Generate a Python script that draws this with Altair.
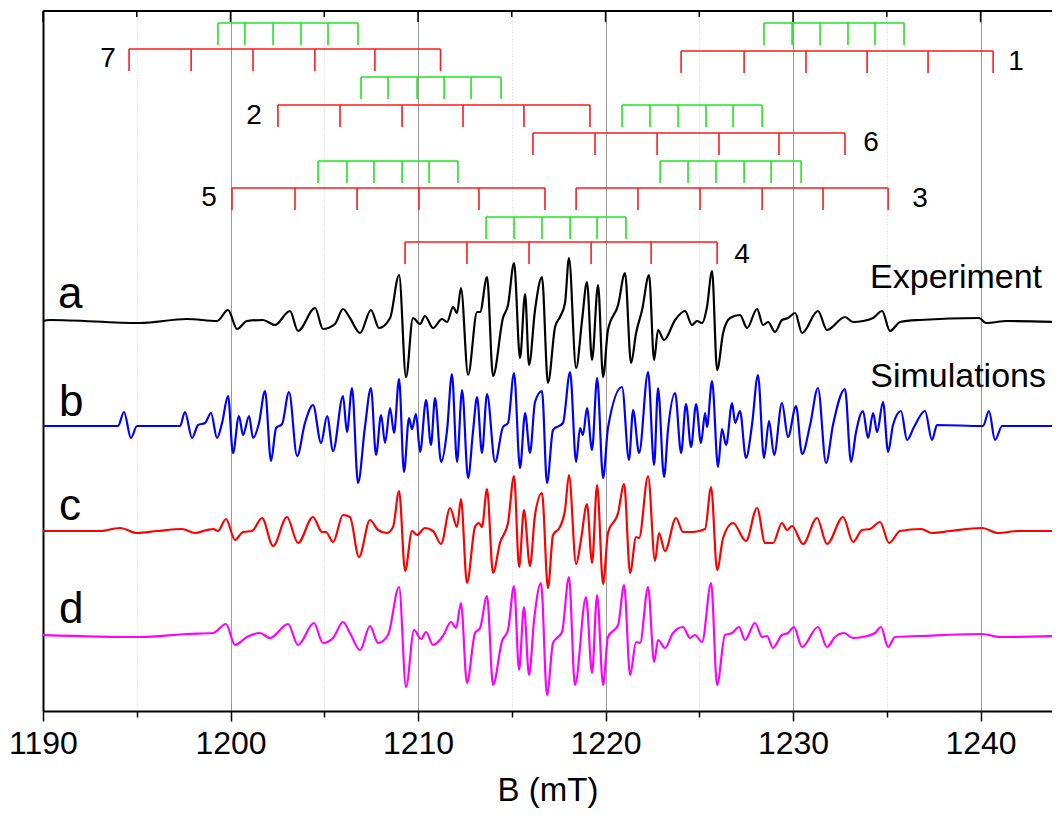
import altair as alt
import pandas as pd

FONT = "Liberation Sans"

# ---------------- spectra (B in mT, intensity in a.u. relative to each baseline) -------------
a_B = [1189.95, 1190.37, 1195.17, 1197.68, 1199.28, 1199.87, 1200.35, 1200.88, 1201.73, 1202.37,
       1203.17, 1203.6, 1204.51, 1204.93, 1205.57, 1206.0, 1206.37, 1206.91, 1207.49, 1207.92,
       1208.51, 1208.99, 1209.36, 1209.73, 1210.11, 1210.37, 1210.8, 1211.28, 1211.55, 1211.87,
       1212.08, 1212.29, 1212.67, 1213.15, 1213.31, 1213.68, 1214.0, 1214.53, 1214.8, 1215.12,
       1215.44, 1215.71, 1215.92, 1216.24, 1216.61, 1216.93, 1217.31, 1217.57, 1217.84, 1218.05,
       1218.43, 1218.75, 1219.01, 1219.28, 1219.6, 1219.87, 1220.13, 1220.67, 1221.04, 1221.36,
       1221.63, 1221.95, 1222.32, 1222.59, 1222.8, 1223.12, 1223.71, 1224.24, 1224.61, 1224.88,
       1225.15, 1225.41, 1225.68, 1225.95, 1226.27, 1226.64, 1227.17, 1227.55, 1228.08, 1228.4,
       1228.67, 1229.04, 1229.41, 1229.73, 1230.11, 1230.48, 1231.33, 1231.81, 1232.77, 1233.2,
       1233.73, 1234.27, 1234.75, 1235.17, 1235.71, 1236.77, 1239.92, 1240.29, 1241.41, 1244.24]
a_I = [0, 1, -2, 2, 0, 11, -8, 0, 1, -4,
       10, -10, 13, -8, -3, 12, 3, -12, 11, -7,
       3, 46, -56, 3, -3, 5, -7, 2, -1, 14,
       8, 33, -54, 9, 9, 44, -55, 3, 16, 58,
       -37, 27, -44, 11, 44, -62, -6, 4, 18, 63,
       -47, 1, 39, -39, 36, -56, -9, 16, 48, -42,
       -12, 11, 46, -39, -9, -19, 1, 10, -4, 0,
       -2, 14, 50, -49, -12, 3, 6, -7, 12, -4,
       -1, -11, 1, 3, 8, -12, 10, -9, 4, -1,
       0, 3, 10, -10, -1, 1, 3, -2, 0, -1]

b_B = [1189.95, 1194.0, 1194.32, 1194.69, 1195.01, 1197.31, 1197.57, 1197.95, 1198.27, 1198.64,
       1198.96, 1199.28, 1199.55, 1199.87, 1200.13, 1200.45, 1200.67, 1200.99, 1201.2, 1201.52,
       1201.84, 1202.16, 1202.43, 1202.75, 1203.12, 1203.55, 1203.97, 1204.4, 1204.83, 1205.15,
       1205.47, 1206.0, 1206.21, 1206.48, 1206.8, 1207.17, 1207.49, 1207.76, 1208.03, 1208.24,
       1208.51, 1208.72, 1208.99, 1209.25, 1209.52, 1209.68, 1209.89, 1210.11, 1210.43, 1210.69,
       1210.91, 1211.23, 1211.55, 1211.81, 1212.08, 1212.35, 1212.67, 1212.93, 1213.15, 1213.41,
       1213.68, 1214.11, 1214.53, 1214.8, 1215.12, 1215.44, 1215.71, 1215.97, 1216.24, 1216.61,
       1216.88, 1217.2, 1217.73, 1218.11, 1218.43, 1218.64, 1218.8, 1219.01, 1219.28, 1219.55,
       1219.87, 1220.13, 1220.88, 1221.25, 1221.47, 1221.79, 1222.27, 1222.59, 1222.8, 1223.12,
       1223.33, 1223.71, 1224.03, 1224.29, 1224.56, 1224.83, 1225.09, 1225.31, 1225.41, 1225.68,
       1226.0, 1226.21, 1226.43, 1226.75, 1226.91, 1227.17, 1227.49, 1227.81, 1228.13, 1228.45,
       1228.72, 1228.99, 1229.41, 1229.73, 1230.16, 1230.48, 1230.91, 1231.33, 1231.76, 1232.13,
       1232.77, 1233.09, 1233.36, 1233.73, 1234.0, 1234.27, 1234.48, 1234.8, 1235.07, 1235.33,
       1235.76, 1236.08, 1236.45, 1237.04, 1237.41, 1237.68, 1240.13, 1240.45, 1240.77, 1241.15,
       1244.24]
b_I = [0, 0, 14, -12, 0, 0, 14, -12, 1, 3,
       13, -12, 3, 30, -27, 10, -9, 10, -12, 3,
       35, -35, -2, 2, 34, -30, 3, 21, -17, 10,
       -25, 30, -6, 38, -57, -1, 38, -29, 11, -17,
       18, -7, 47, -46, 8, -3, 12, -26, 26, -19,
       28, -36, -4, 52, -36, 36, -52, -6, 29, -27,
       32, -36, -1, 3, 53, -42, 13, -27, 24, 35,
       -57, -4, 3, 54, -36, -2, -9, 18, -24, 48,
       -52, -2, 39, -34, 16, -27, 54, -39, 38, -51,
       -4, 33, -27, 22, -21, 22, -17, 13, -1, 45,
       -41, -3, -19, 23, 3, 15, -32, 1, 51, -32,
       5, -29, 23, -11, 20, -28, 1, 38, -37, 1,
       37, -36, -6, 15, -12, 13, -6, 24, -26, 1,
       15, -14, -1, 15, -14, 1, 0, 15, -14, 0,
       0]

c_B = [1189.95, 1193.04, 1194.11, 1195.01, 1196.08, 1197.41, 1198.11, 1198.75, 1199.07, 1199.33,
       1199.76, 1200.24, 1200.67, 1201.15, 1201.68, 1202.27, 1203.01, 1203.6, 1204.4, 1204.88,
       1205.09, 1205.47, 1206.0, 1206.37, 1206.85, 1207.44, 1207.87, 1208.35, 1208.67, 1208.99,
       1209.31, 1209.68, 1209.95, 1210.37, 1210.8, 1211.23, 1211.71, 1212.08, 1212.29, 1212.61,
       1213.04, 1213.25, 1213.41, 1213.68, 1214.0, 1214.37, 1214.8, 1215.12, 1215.39, 1215.65,
       1215.97, 1216.24, 1216.61, 1216.93, 1217.2, 1217.57, 1217.84, 1218.05, 1218.43, 1218.69,
       1219.01, 1219.28, 1219.55, 1219.87, 1220.13, 1220.67, 1220.99, 1221.31, 1221.63, 1221.79,
       1222.27, 1222.64, 1222.85, 1223.17, 1223.76, 1224.13, 1224.67, 1225.31, 1225.63, 1225.95,
       1226.27, 1226.8, 1227.49, 1228.08, 1228.51, 1228.93, 1229.41, 1229.68, 1229.95, 1230.53,
       1231.28, 1231.81, 1232.67, 1233.2, 1233.68, 1234.11, 1234.64, 1235.12, 1235.71, 1236.83,
       1237.41, 1238.37, 1240.08, 1240.93, 1242.0, 1244.24]
c_I = [0, 0, 3, -2, 0, 2, -2, 1, 2, 0,
       12, -9, -1, 0, 13, -15, 14, -12, 14, -1,
       -1, -11, 16, 14, -26, 11, 1, -2, 4, 40,
       -40, 0, -4, 3, 0, -13, 23, 4, 32, -52,
       4, 8, 4, 42, -42, -12, 8, 55, -36, 21,
       -35, 16, 38, -57, -4, 4, 21, 56, -33, -9,
       27, -32, 46, -53, -2, 18, 47, -42, -6, -7,
       55, -30, -2, -20, 13, -1, -1, 2, 44, -39,
       -7, 8, -10, 23, -12, -12, 8, 1, 5, -13,
       13, -13, 14, -11, 1, 2, 9, -12, 0, 2,
       -2, 0, 3, -2, 0, 0]

d_B = [1189.95, 1195.17, 1197.68, 1199.07, 1199.76, 1200.24, 1200.88, 1201.57, 1202.11, 1203.07,
       1203.6, 1204.45, 1204.93, 1205.47, 1206.0, 1206.37, 1206.91, 1207.44, 1207.87, 1208.4,
       1208.99, 1209.36, 1209.79, 1210.16, 1210.43, 1210.8, 1211.33, 1211.76, 1212.03, 1212.29,
       1212.61, 1213.04, 1213.31, 1213.68, 1214.0, 1214.48, 1214.8, 1215.12, 1215.39, 1215.65,
       1215.92, 1216.19, 1216.56, 1216.88, 1217.2, 1217.68, 1218.05, 1218.37, 1218.96, 1219.28,
       1219.55, 1219.87, 1220.13, 1220.67, 1220.99, 1221.31, 1221.63, 1221.84, 1222.27, 1222.59,
       1222.8, 1223.17, 1223.6, 1224.13, 1224.51, 1224.77, 1225.15, 1225.63, 1225.95, 1226.37,
       1226.75, 1227.12, 1227.44, 1227.97, 1228.35, 1228.61, 1228.93, 1229.41, 1229.73, 1230.05,
       1230.48, 1231.33, 1231.81, 1232.24, 1232.72, 1233.2, 1233.95, 1234.37, 1234.69, 1235.07,
       1235.44, 1236.77, 1240.08, 1241.04, 1244.24]
d_I = [0, -2, 1, 2, 11, -10, -2, 2, -3, 11,
       -10, 12, -8, -3, 13, 2, -15, 9, -8, 0,
       48, -52, 5, -4, 3, -10, -1, 13, 7, 32,
       -48, 2, 7, 39, -50, -6, 5, 49, -35, 28,
       -40, 15, 52, -60, -8, 3, 58, -50, 38, -38,
       40, -50, -2, 10, 50, -40, -7, -8, 48, -27,
       -5, -13, 2, 8, -3, 0, -7, 52, -50, 0,
       2, 8, -5, 12, -2, -1, -13, 0, 2, 8,
       -12, 8, -12, -2, 2, -3, -1, 2, 8, -12,
       -2, -1, 1, -2, -1]

trace_names = ["a", "b", "c", "d"]
trace_offsets = [390, 285, 180, 76]
trace_colors = ["#000000", "#0000ff", "#ff0000", "#ff00ff"]

# ---------------- stick diagrams (line positions in mT) ----------------
groups = ["1", "2", "3", "4", "5", "6", "7"]
red_pos = {
    "1": [1224.03, 1227.39, 1230.69, 1233.95, 1237.20, 1240.67],
    "2": [1202.53, 1205.84, 1209.15, 1212.40, 1215.65, 1219.17],
    "3": [1218.43, 1221.73, 1225.04, 1228.35, 1231.60, 1235.07],
    "4": [1209.31, 1212.61, 1215.92, 1219.23, 1222.43, 1225.95],
    "5": [1200.08, 1203.44, 1206.75, 1210.05, 1213.25, 1216.77],
    "6": [1216.13, 1219.44, 1222.75, 1226.05, 1229.25, 1232.77],
    "7": [1194.59, 1197.90, 1201.20, 1204.50, 1207.70, 1211.20],
}
green_pos = {
    "1": [1228.45, 1229.95, 1231.44, 1232.93, 1234.37, 1235.92],
    "2": [1206.96, 1208.40, 1209.95, 1211.39, 1212.83, 1214.43],
    "3": [1222.91, 1224.40, 1225.89, 1227.39, 1228.83, 1230.43],
    "4": [1213.63, 1215.12, 1216.61, 1218.11, 1219.55, 1221.09],
    "5": [1204.67, 1206.21, 1207.65, 1209.15, 1210.59, 1212.13],
    "6": [1220.88, 1222.37, 1223.87, 1225.36, 1226.80, 1228.35],
    "7": [1199.33, 1200.77, 1202.27, 1203.76, 1205.20, 1206.80],
}
red_level = {"1": 660, "2": 606, "3": 523, "4": 469, "5": 523, "6": 578, "7": 662}
green_level = {"1": 688, "2": 634, "3": 550, "4": 494, "5": 550, "6": 606, "7": 688}
stick_len = 22
label_B = {"1": 1241.89, "2": 1201.25, "3": 1236.77, "4": 1227.28, "5": 1198.85, "6": 1234.16, "7": 1193.47}
label_y = {"1": 649, "2": 595, "3": 512, "4": 456, "5": 513, "6": 568, "7": 652}

# ---------------- text annotations ----------------
letter_B = [1190.8, 1190.85, 1190.85, 1190.85]
letter_y = [403, 295, 191, 88]
note_text = ["Experiment", "Simulations"]
note_B = [1243.28, 1243.49]
note_y = [423, 324]

major_ticks = [1190, 1200, 1210, 1220, 1230, 1240]
minor_ticks = [1195, 1205, 1215, 1225, 1235]
axis_values = sorted(major_ticks + minor_ticks)

XMIN, XMAX = 1190, 1243.81
W, H = 1009, 700

# ---------------- build tables ----------------
rows = []
for name, Bs, Is, off in zip(trace_names, [a_B, b_B, c_B, d_B], [a_I, b_I, c_I, d_I], trace_offsets):
    for i, (bb, ii) in enumerate(zip(Bs, Is)):
        rows.append({"trace": name, "B": bb, "y": ii + off, "order": i})
spec = pd.DataFrame(rows)


def bar_tables(pos_map, lev_map):
    h, v = [], []
    for g in groups:
        pos, lev = pos_map[g], lev_map[g]
        h.append({"x": pos[0], "x2": pos[-1], "y": lev})
        for p in pos:
            v.append({"x": p, "y": lev, "y2": lev - stick_len})
    return pd.DataFrame(h), pd.DataFrame(v)


red_h, red_v = bar_tables(red_pos, red_level)
green_h, green_v = bar_tables(green_pos, green_level)

labdf = pd.DataFrame({"t": groups, "B": [label_B[g] for g in groups], "y": [label_y[g] for g in groups]})
letdf = pd.DataFrame({"t": trace_names, "B": letter_B, "y": letter_y})
notedf = pd.DataFrame({"t": note_text, "B": note_B, "y": note_y})
topdf = pd.DataFrame({"B": major_ticks + minor_ticks,
                      "len": [11] * len(major_ticks) + [6] * len(minor_ticks)})
topdf["y"] = H
topdf["y2"] = H - topdf["len"]

xscale = alt.Scale(domain=[XMIN, XMAX], nice=False, zero=False)
yscale = alt.Scale(domain=[0, H], nice=False, zero=False)

xaxis = alt.Axis(
    values=axis_values, format="d",
    labelExpr="datum.value % 10 === 0 ? datum.label : ''",
    labelFlush=False, labelOverlap=False,
    tickSize={"condition": {"test": "datum.value % 10 === 0", "value": 10}, "value": 6},
    tickColor="black", tickWidth=1.5,
    domainColor="black", domainWidth=2,
    labelFont=FONT, labelFontSize=32, labelColor="black", labelPadding=7,
    title="B (mT)", titleFont=FONT, titleFontSize=33, titleFontWeight="normal",
    titleColor="black", titlePadding=15,
    grid=True,
    gridColor={"condition": {"test": "datum.value % 10 === 0", "value": "#9a9a9a"}, "value": "#d4d4d4"},
    gridDash={"condition": {"test": "datum.value % 10 === 0", "value": []}, "value": [1, 2]},
    gridWidth=1,
)
yaxis = alt.Axis(title=None, labels=False, ticks=False, grid=False, domainColor="black", domainWidth=2)

X = alt.X("B:Q", scale=xscale, axis=xaxis)
Y = alt.Y("y:Q", scale=yscale, axis=yaxis)

lines = alt.Chart(spec).mark_line(strokeWidth=2.2, interpolate="monotone", clip=True).encode(
    x=X, y=Y, order="order:Q",
    color=alt.Color("trace:N", scale=alt.Scale(domain=trace_names, range=trace_colors), legend=None),
)


def stick_layers(hdf, vdf, col):
    hl = alt.Chart(hdf).mark_rule(strokeWidth=1.6, color=col).encode(
        x=alt.X("x:Q", scale=xscale), x2="x2:Q", y=alt.Y("y:Q", scale=yscale))
    vl = alt.Chart(vdf).mark_rule(strokeWidth=1.6, color=col).encode(
        x=alt.X("x:Q", scale=xscale), y=alt.Y("y:Q", scale=yscale), y2="y2:Q")
    return [hl, vl]


sticks = stick_layers(red_h, red_v, "#ff1a1a") + stick_layers(green_h, green_v, "#1ee61e")

nums = alt.Chart(labdf).mark_text(font=FONT, fontSize=28, color="black", align="center", baseline="middle").encode(
    x=alt.X("B:Q", scale=xscale), y=alt.Y("y:Q", scale=yscale), text="t:N")
letters = alt.Chart(letdf).mark_text(font=FONT, fontSize=44, color="black", align="left", baseline="alphabetic").encode(
    x=alt.X("B:Q", scale=xscale), y=alt.Y("y:Q", scale=yscale), text="t:N")
notes = alt.Chart(notedf).mark_text(font=FONT, fontSize=34, color="black", align="right", baseline="alphabetic").encode(
    x=alt.X("B:Q", scale=xscale), y=alt.Y("y:Q", scale=yscale), text="t:N")

top_ticks = alt.Chart(topdf).mark_rule(color="black", strokeWidth=1.5).encode(
    x=alt.X("B:Q", scale=xscale), y=alt.Y("y:Q", scale=yscale), y2="y2:Q")
top_line = alt.Chart(topdf).mark_rule(color="black", strokeWidth=2).encode(
    x=alt.value(0), x2=alt.value(W), y=alt.value(0))

chart = alt.layer(lines, *sticks, nums, letters, notes, top_ticks, top_line).properties(
    width=W, height=H,
    padding={"left": 35, "top": 3, "right": 0, "bottom": 102},
    autosize=alt.AutoSizeParams(type="none"),
    background="white",
).configure_view(stroke=None)

chart.save("out.html", embed_options={"renderer": "svg", "actions": False})
